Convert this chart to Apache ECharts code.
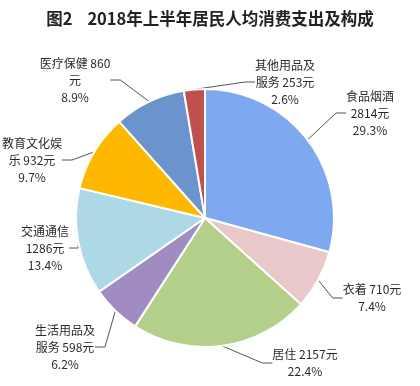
<!DOCTYPE html>
<html>
<head>
<meta charset="utf-8">
<script src="https://cdn.jsdelivr.net/npm/echarts@6/dist/echarts.min.js"></script>
<style>html,body{margin:0;padding:0;background:#fff}#c{width:420px;height:386px}</style>
</head>
<body>
<div id="c"></div>
<script>
var categories = ['食品烟酒', '衣着', '居住', '生活用品及服务', '交通通信', '教育文化娱乐', '医疗保健', '其他用品及服务'];
var values = [2814, 710, 2157, 598, 1286, 932, 860, 253];
var labelTexts = [
  '食品烟酒\n2814元\n29.3%',
  '衣着 710元\n7.4%',
  '居住 2157元\n22.4%',
  '生活用品及\n服务 598元\n6.2%',
  '交通通信\n1286元\n13.4%',
  '教育文化娱\n乐 932元\n9.7%',
  '医疗保健 860\n元\n8.9%',
  '其他用品及\n服务 253元\n2.6%'
];
var colors = ['#7EA9F0', '#E8C8C8', '#B3CF8A', '#A08CC0', '#ADD8E6', '#FFB800', '#6B93CC', '#C0504D'];
var labelPos = [[370, 113], [372, 298], [305, 363], [65, 347], [45, 248], [32, 160], [75, 80], [285, 82]];

var chart = echarts.init(document.getElementById('c'));
chart.setOption({
  backgroundColor: '#fff',
  title: {
    text: '图2    2018年上半年居民人均消费支出及构成',
    left: 'center', top: 5,
    textStyle: {fontFamily: 'Noto Sans CJK SC', fontWeight: 'bold', fontSize: 16.5, color: '#222'}
  },
  series: [{
    type: 'pie',
    center: [205, 218],
    radius: 129,
    startAngle: 90,
    clockwise: true,
    animation: false,
    itemStyle: {borderColor: '#fff', borderWidth: 2},
    label: {
      show: true,
      formatter: function (p) { return labelTexts[p.dataIndex]; },
      fontFamily: 'Noto Sans CJK SC', fontSize: 12, lineHeight: 17, color: '#2a2a2a', align: 'center',
      overflow: 'none'
    },
    labelLine: {show: true, length: 12, length2: 10, lineStyle: {color: '#555', width: 1}},
    labelLayout: function (p) {
      var pos = labelPos[p.dataIndex];
      return {x: pos[0], y: pos[1], align: 'center', verticalAlign: 'middle'};
    },
    data: categories.map(function (c, i) { return {name: c, value: values[i], itemStyle: {color: colors[i]}}; })
  }]
});
</script>
</body>
</html>
